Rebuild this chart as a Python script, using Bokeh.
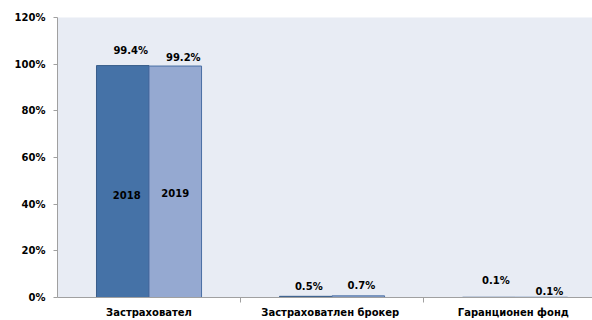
from bokeh.plotting import figure
from bokeh.models import Range1d, FixedTicker, NumeralTickFormatter, ColumnDataSource
from bokeh.core.properties import value
from bokeh.embed import file_html
from bokeh.resources import INLINE

categories = ["Застраховател", "Застраховатлен  брокер", "Гаранционен  фонд"]
series_names = ["2018", "2019"]
values_2018 = [0.994, 0.005, 0.001]
values_2019 = [0.992, 0.007, 0.001]
labels_2018 = ["99.4%", "0.5%", "0.1%"]
labels_2019 = ["99.2%", "0.7%", "0.1%"]

# styling / placement (pixels)
off_2018_x = [8, 3, 7]
off_2018_y = [15, 10, 17]
off_2019_x = [8, 3, 8]
off_2019_y = [9, 10, 6]

FONT = "DejaVu Sans"
C2018 = "#4572A7"
C2019 = "#95A9D1"
BW = 0.287

n = len(categories)
centers = [i + 0.5 for i in range(n)]
x18 = [c - BW / 2 for c in centers]
x19 = [c + BW / 2 for c in centers]

p = figure(width=592, height=320, output_backend="svg", toolbar_location=None,
           x_range=Range1d(0, 2.923), y_range=Range1d(0, 1.2),
           min_border_left=57, min_border_right=0, min_border_top=17, min_border_bottom=22)
p.background_fill_color = "#E8ECF4"
p.border_fill_color = "white"
p.outline_line_color = None
p.xgrid.visible = False
p.ygrid.visible = False

p.vbar(x=x18, top=values_2018, width=BW, fill_color=C2018, line_color="#385D8A", line_width=1)
p.vbar(x=x19, top=values_2019, width=BW, fill_color=C2019, line_color="#4A6FA5", line_width=1)

src18 = ColumnDataSource(dict(x=x18, y=values_2018, t=labels_2018, xo=off_2018_x, yo=[-v for v in off_2018_y]))
src19 = ColumnDataSource(dict(x=x19, y=values_2019, t=labels_2019, xo=off_2019_x, yo=[-v for v in off_2019_y]))
for s in (src18, src19):
    p.text(x="x", y="y", text="t", x_offset="xo", y_offset="yo", source=s,
           text_font=value(FONT), text_font_style="bold", text_font_size="10px",
           text_align="center", text_baseline="middle", text_color="black")

# series names inside the first bars
p.text(x=[x18[0], x19[0]], y=[values_2018[0] * 0.44, values_2019[0] * 0.45], text=series_names,
       x_offset=[4, 0], text_font=value(FONT), text_font_style="bold", text_font_size="10px",
       text_align="center", text_baseline="middle", text_color="black")

xa = p.xaxis[0]
xa.ticker = FixedTicker(ticks=centers, minor_ticks=[1, 2])
xa.major_label_overrides = {c: categories[i] for i, c in enumerate(centers)}
xa.major_tick_line_color = None
xa.major_tick_out = 0
xa.major_tick_in = 0
xa.minor_tick_out = 5
xa.minor_tick_in = 0
xa.minor_tick_line_color = "#A0A0A0"
xa.axis_line_color = "#A0A0A0"
xa.major_label_text_font = FONT
xa.major_label_text_font_style = "bold"
xa.major_label_text_font_size = "10px"
xa.major_label_text_color = "black"
xa.major_label_standoff = 4

ya = p.yaxis[0]
ya.ticker = FixedTicker(ticks=[0, 0.2, 0.4, 0.6, 0.8, 1.0, 1.2])
ya.formatter = NumeralTickFormatter(format="0%")
ya.axis_line_color = "#A0A0A0"
ya.major_tick_line_color = "#A0A0A0"
ya.major_tick_out = 4
ya.major_tick_in = 0
ya.minor_tick_line_color = None
ya.major_label_text_font = FONT
ya.major_label_text_font_style = "bold"
ya.major_label_text_font_size = "10px"
ya.major_label_text_color = "black"
ya.major_label_standoff = 8

open("out.html", "w").write(file_html(p, INLINE))
